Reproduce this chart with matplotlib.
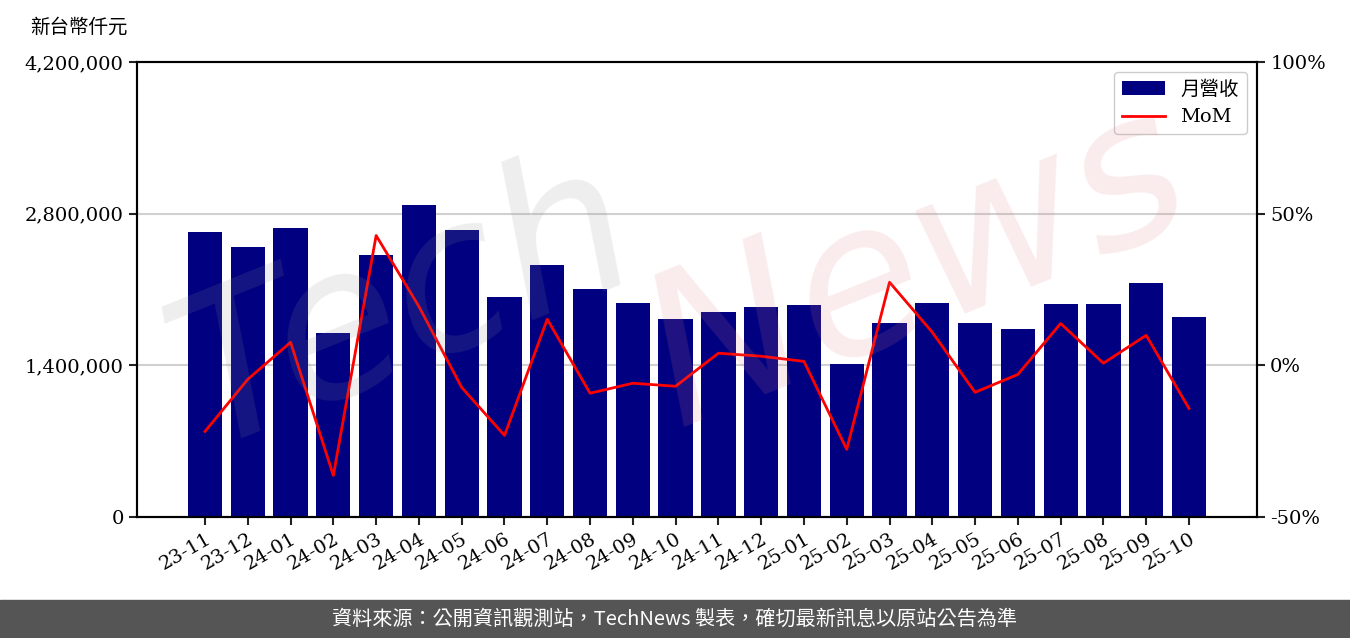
import matplotlib
matplotlib.use("Agg")
import matplotlib.pyplot as plt
import matplotlib.ticker as mticker

SERIF = ["DejaVu Serif", "Noto Sans CJK TC"]
plt.rcParams["font.family"] = SERIF

# ── DATA ─────────────────────────────────────────────────────────────────────
months = ["23-11", "23-12", "24-01", "24-02", "24-03", "24-04", "24-05", "24-06",
          "24-07", "24-08", "24-09", "24-10", "24-11", "24-12", "25-01", "25-02",
          "25-03", "25-04", "25-05", "25-06", "25-07", "25-08", "25-09", "25-10"]
revenue = [2630000, 2492000, 2667000, 1698000, 2418000, 2879000, 2649000, 2030000,
           2326000, 2104000, 1975000, 1827000, 1892000, 1938000, 1957000, 1412000,
           1790000, 1975000, 1790000, 1735000, 1966000, 1966000, 2160000, 1846000]
mom = [-21.8, -4.6, 7.6, -36.3, 42.8, 19.4, -7.3, -23.1,
       15.2, -9.2, -5.9, -6.9, 4.0, 3.0, 1.3, -27.7,
       27.4, 10.9, -8.9, -3.0, 13.8, 0.7, 9.9, -14.2]

# ── FIGURE ───────────────────────────────────────────────────────────────────
fig = plt.figure(figsize=(13.5, 6.38), dpi=100)
ax = fig.add_axes([137/1350, 1 - 517/638, 1120/1350, 455/638])
ax2 = ax.twinx()

x = list(range(len(months)))
ax.bar(x, revenue, width=0.8, color="#000080", label="月營收", zorder=2)
ax2.plot(x, mom, color="red", linewidth=2, label="MoM", zorder=3)

ax.set_xlim(-1.59, len(months) - 1 + 1.59)
ax.set_ylim(0, 4200000)
ax.set_yticks([0, 1400000, 2800000, 4200000])
ax.yaxis.set_major_formatter(mticker.FuncFormatter(lambda v, _: f"{v:,.0f}"))
ax2.set_ylim(-50, 100)
ax2.set_yticks([-50, 0, 50, 100])
ax2.yaxis.set_major_formatter(mticker.FuncFormatter(lambda v, _: f"{v:.0f}%"))

ax.set_xticks(x)
ax.set_xticklabels(months, rotation=30, ha="right", rotation_mode="anchor")
for a in (ax, ax2):
    a.tick_params(labelsize=14, width=1.5, length=6, color="#222222")
    for s in a.spines.values():
        s.set_linewidth(1.5)
ax.set_axisbelow(True)
for v in (1400000, 2800000):
    ax.axhline(v, color="#d0d0d0", linewidth=1.5, zorder=1)

fig.text(30/1350, 1 - 27/638, "新台幣仟元", fontsize=14, va="center", ha="left",
         family=["Noto Sans CJK TC", "DejaVu Sans"])

h1, l1 = ax.get_legend_handles_labels()
h2, l2 = ax2.get_legend_handles_labels()
leg = ax2.legend(h1 + h2, l1 + l2, loc="upper right", fontsize=14,
                 bbox_to_anchor=(0.9995, 0.9985), handlelength=2.2, framealpha=1,
                 prop={"family": ["DejaVu Serif", "Noto Sans CJK TC"], "size": 14})
leg.set_zorder(10)

# watermark
fig.text(0.30, 0.52, "Tech", fontsize=150, color="#909090", alpha=0.15,
         rotation=22, ha="center", va="center", style="italic",
         family="DejaVu Sans", zorder=20)
fig.text(0.68, 0.58, "News", fontsize=150, color="#e08080", alpha=0.15,
         rotation=22, ha="center", va="center", style="italic",
         family="DejaVu Sans", zorder=20)

# footer
fig.patches.append(plt.Rectangle((0, 0), 1, 38/638, transform=fig.transFigure,
                                 color="#555555", zorder=0))
fig.text(0.5, 19/638, "資料來源：公開資訊觀測站，TechNews 製表，確切最新訊息以原站公告為準",
         color="white", fontsize=14.5, ha="center", va="center",
         family=["Noto Sans CJK TC", "DejaVu Sans"])

fig.savefig("out.png", dpi=100)
